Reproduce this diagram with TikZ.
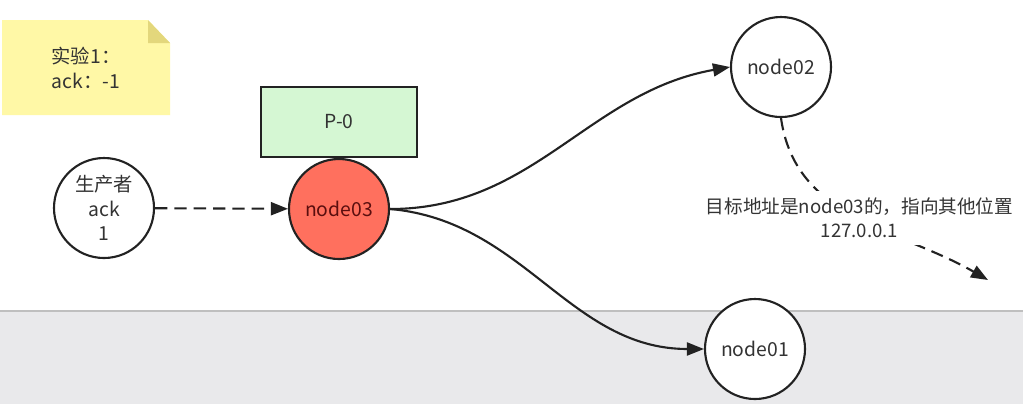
\documentclass[tikz,border=0pt]{standalone}
\usepackage{fontspec}
\setmainfont{Noto Sans CJK SC}
\usepackage{xcolor}
\usetikzlibrary{
  positioning,
  arrows.meta,
  backgrounds
}
\definecolor{lineDark}{HTML}{222222}
\definecolor{noteYellow}{HTML}{FFF8A6}
\definecolor{foldYellow}{HTML}{E3D77C}
\definecolor{partGreen}{HTML}{D5F7D3}
\definecolor{leaderRed}{HTML}{FF705E}
\definecolor{leaderText}{HTML}{5A0E0E}
\definecolor{bandGray}{HTML}{E9E9EB}
\tikzset{
  broker/.style   = {circle, draw=lineDark, fill=white, line width=1.2pt,
                     minimum size=2cm, inner sep=0pt, align=center,
                     font=\fontsize{11}{14}\selectfont, text=black!80},
  leader/.style   = {broker, fill=leaderRed, text=leaderText},
  part/.style     = {rectangle, draw=lineDark, fill=partGreen, line width=1.2pt,
                     minimum width=3.12cm, minimum height=1.4cm,
                     font=\fontsize{11}{14}\selectfont, text=black!80},
  arrow/.style    = {-{Triangle[length=3.4mm, width=2.6mm]}, line width=1.2pt,
                     draw=lineDark},
  dashArrow/.style = {arrow, dash pattern=on 7pt off 4pt},
  note/.style     = {font=\fontsize{10.6}{14}\selectfont, text=black!80,
                     align=center, fill=white, inner xsep=2pt, inner ysep=4pt}
}

\begin{document}
\begin{tikzpicture}[x=0.2mm, y=-0.2mm]
\useasboundingbox (0,0) rectangle (1023,404);
% screen background
\fill[white] (0,0) rectangle (1023,404);
\fill[bandGray] (0,311) rectangle (1023,404);
\draw[black!25, line width=1pt] (0,311) -- (1023,311);

% sticky note
\fill[noteYellow] (2,20) -- (148,20) -- (170,43) -- (170,115) -- (2,115) -- cycle;
\fill[foldYellow] (148,20) -- (170,43) -- (148,43) -- cycle;
\node[font=\fontsize{11}{14}\selectfont, text=black!80, align=left]
  (memo) at (86,68) {实验1：\\ack：-1};

% brokers
\node[broker] (prod) at (104,208) {生产者\\ack\\1};
\node[leader] (n3) at (339,209) {node03};
\node[part, above=0pt of n3] (p0) {P-0};
\node[broker] (n2) at (781,67) {node02};
\node[broker] (n1) at (755,349) {node01};
\coordinate (away) at (988,280);

% connectors
\draw[dashArrow] (prod) -- (n3);
\draw[arrow] (n3.east) to[out=0, in=190] (n2.west);
\draw[arrow] (n3.east) to[out=-5, in=180] (n1.west);
\draw[dashArrow] (n2.south) to[out=-82, in=150]
  node[note, pos=0.5, xshift=0.6mm] (redir) {目标地址是node03的，指向其他位置\\127.0.0.1} (away);
\end{tikzpicture}
\end{document}
